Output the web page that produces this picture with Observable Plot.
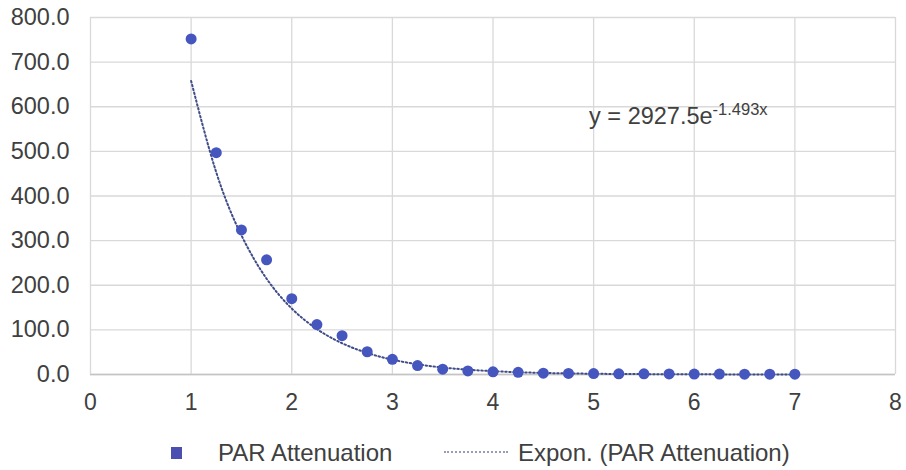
<!DOCTYPE html>
<html>
<head>
<meta charset="utf-8">
<script src="https://cdn.jsdelivr.net/npm/d3@7"></script>
<script src="https://cdn.jsdelivr.net/npm/@observablehq/plot@0.6"></script>
<style>
  body { margin: 0; background: #fff; font-family: "Liberation Sans", Arial, sans-serif; }
  #chart svg { display: block; }
  .legend { position: relative; height: 50px; font-size: 24px; color: #404040; }
  .legend span { position: absolute; line-height: 26px; }
</style>
</head>
<body>
<div id="chart"></div>
<div class="legend">
  <span style="left:171px;top:27px;width:11px;height:12px;background:#4a4fb0;"></span>
  <span style="left:218px;top:20px;">PAR Attenuation</span>
  <span style="left:444px;top:31px;width:64px;height:0;border-top:2px dotted #9a9db8;"></span>
  <span style="left:518px;top:20px;">Expon. (PAR Attenuation)</span>
</div>
<script>
const depth = [1, 1.25, 1.5, 1.75, 2, 2.25, 2.5, 2.75, 3, 3.25, 3.5, 3.75, 4, 4.25, 4.5, 4.75, 5, 5.25, 5.5, 5.75, 6, 6.25, 6.5, 6.75, 7];
const par = [752, 497, 324, 257, 170, 112, 87, 51, 34, 20, 12, 8, 6, 5, 3, 2.5, 2, 1.5, 1.5, 1.2, 1, 1, 0.8, 0.8, 0.7];
const xTicks = [0, 1, 2, 3, 4, 5, 6, 7, 8];
const yTicks = [0, 100, 200, 300, 400, 500, 600, 700, 800];
const trendA = 2927.5;
const trendB = -1.493;

const pts = depth.map((d, i) => ({x: d, y: par[i]}));
const trend = depth.map(d => ({x: d, y: trendA * Math.exp(trendB * d)}));

const plot = Plot.plot({
  width: 906,
  height: 420,
  marginLeft: 90,
  marginRight: 11,
  marginTop: 17,
  marginBottom: 46,
  style: {fontFamily: "Liberation Sans, Arial, sans-serif", fontSize: "23px", color: "#404040", background: "#fff"},
  x: {domain: [0, 8], label: null},
  y: {domain: [0, 800], label: null},
  marks: [
    Plot.gridX(xTicks, {stroke: "#d9d9d9", strokeOpacity: 1, strokeWidth: 1.3}),
    Plot.gridY(yTicks, {stroke: "#d9d9d9", strokeOpacity: 1, strokeWidth: 1.3}),
    Plot.ruleY([0], {stroke: "#c4c4c4", strokeWidth: 1.5}),
    Plot.line(trend, {x: "x", y: "y", curve: "natural", stroke: "#3f4c88", strokeWidth: 2, strokeDasharray: "1.5,2.5"}),
    Plot.dot(pts, {x: "x", y: "y", r: 5.5, fill: "#4656bf", stroke: "none"}),
    Plot.axisX(xTicks, {tickSize: 0, tickPadding: 19, fontSize: 23, label: null}),
    Plot.axisY(yTicks, {tickSize: 0, tickPadding: 21, fontSize: 23.5, label: null, tickFormat: d => d.toFixed(1)})
  ]
});
document.getElementById("chart").appendChild(plot);

// trendline equation label
const sx = plot.scale("x"), sy = plot.scale("y");
const svg = d3.select(plot);
const t = svg.append("text")
  .attr("x", sx.apply(4.96))
  .attr("y", sy.apply(561))
  .attr("text-anchor", "start")
  .attr("fill", "#404040")
  .attr("font-size", 23.5)
  .attr("font-family", "Liberation Sans, Arial, sans-serif");
t.append("tspan").text("y = 2927.5e");
t.append("tspan").attr("dy", -9).attr("font-size", 16.5).text("-1.493x");
</script>
</body>
</html>
